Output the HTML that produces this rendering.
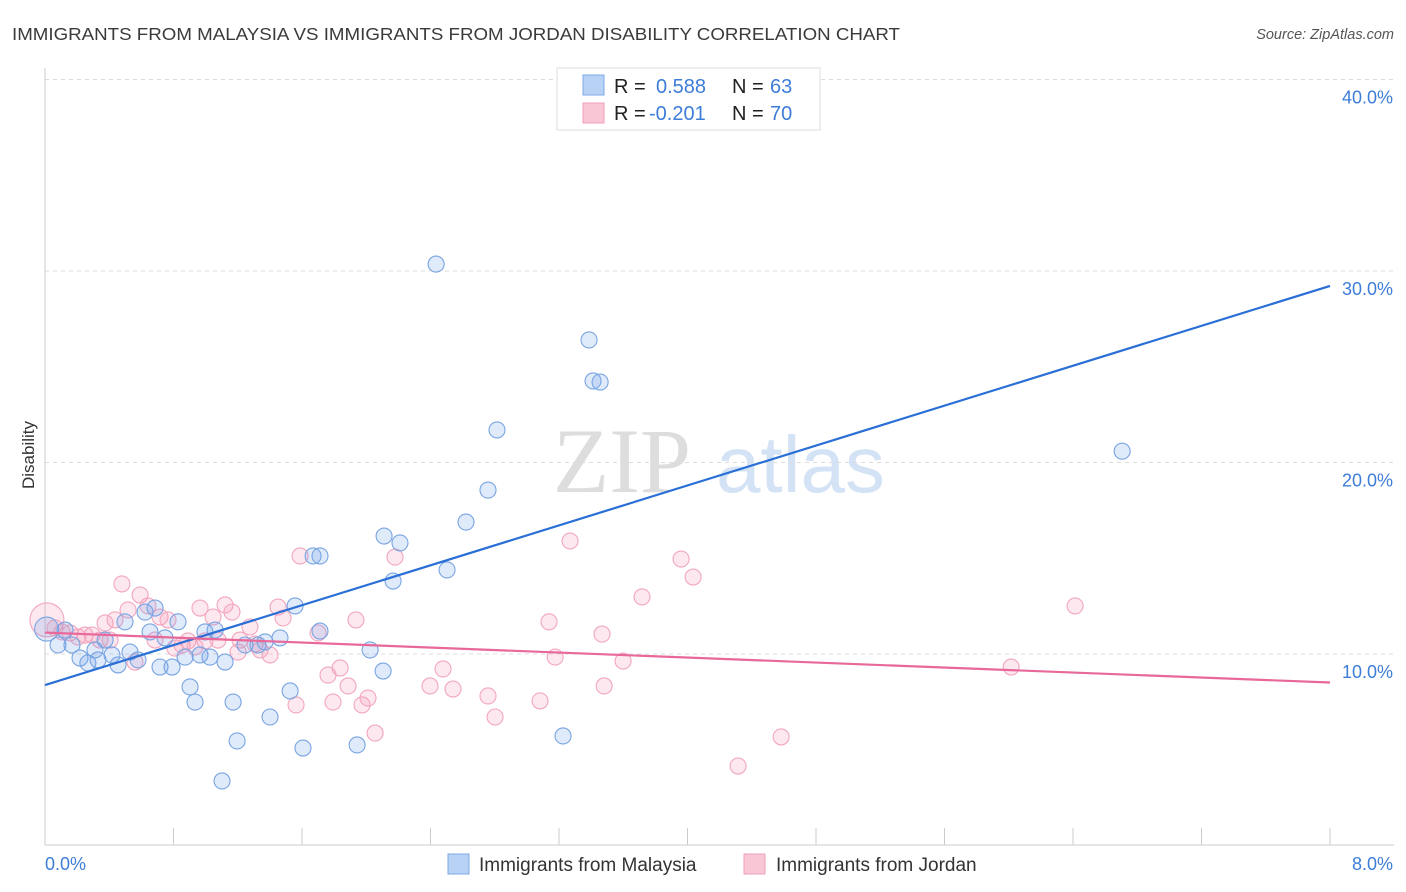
<!DOCTYPE html>
<html><head><meta charset="utf-8"><style>
body{margin:0;background:#fff;font-family:"Liberation Sans",sans-serif;}
svg{display:block}
</style></head><body>
<svg id="c" width="1406" height="892" xmlns="http://www.w3.org/2000/svg">
<text x="12" y="40" font-size="17.5" fill="#3a3a3a" textLength="888" lengthAdjust="spacingAndGlyphs">IMMIGRANTS FROM MALAYSIA VS IMMIGRANTS FROM JORDAN DISABILITY CORRELATION CHART</text>
<text x="1394" y="39" font-size="14.5" font-style="italic" fill="#555" text-anchor="end">Source: ZipAtlas.com</text>
<text x="34" y="455" font-size="17" fill="#333" text-anchor="middle" transform="rotate(-90 34 455)">Disability</text>
<g><text x="553" y="492" font-size="92" font-family="Liberation Serif,serif" fill="#ddd">ZIP</text><text x="716" y="492" font-size="80" fill="#d3e3f5">atlas</text></g>
<g id="grid"></g><g id="pts"></g><g id="trend"></g>
<g>
<rect x="557" y="68" width="263" height="62" fill="#fff" stroke="#ddd"/>
<rect x="583" y="75" width="21" height="20" fill="#b8d2f5" stroke="#7fa9e6"/>
<rect x="583" y="103" width="21" height="20" fill="#f9c6d6" stroke="#f0a0b8"/>
<text x="614" y="93" font-size="20" fill="#222">R = </text><text x="656" y="93" font-size="20" fill="#3d7dd8">0.588</text>
<text x="732" y="93" font-size="20" fill="#222">N = </text><text x="770" y="93" font-size="20" fill="#3d7dd8">63</text>
<text x="614" y="120" font-size="20" fill="#222">R = </text><text x="649" y="120" font-size="20" fill="#3d7dd8">-0.201</text>
<text x="732" y="120" font-size="20" fill="#222">N = </text><text x="770" y="120" font-size="20" fill="#3d7dd8">70</text>
</g>
<g>
<rect x="448" y="854" width="21" height="20" fill="#b8d2f5" stroke="#7fa9e6"/>
<text x="479" y="871" font-size="19" fill="#333">Immigrants from Malaysia</text>
<rect x="744" y="854" width="21" height="20" fill="#f9c6d6" stroke="#f0a0b8"/>
<text x="776" y="871" font-size="19" fill="#333">Immigrants from Jordan</text>
</g>
</svg>
<script>
const yTicks=[10,20,30,40];
const xTickLabels=["0.0%","8.0%"];
const blueX=[.081,.125,.168,.218,.267,.311,.330,.374,.417,.455,.498,.529,.579,.623,.654,.685,.716,.747,.791,.828,.872,.903,.934,.965,.996,1.027,1.059,1.121,1.171,1.196,1.102,1.245,1.326,1.370,1.401,1.463,1.526,1.557,1.606,1.669,1.712,1.712,1.943,2.024,2.105,2.111,2.167,2.210,2.435,2.503,2.621,2.758,2.814,3.225,3.387,3.412,3.456,6.706,0.01];
const blueY=[10.47,11.25,10.47,9.79,9.53,10.21,9.69,10.73,9.95,9.43,11.68,10.10,9.69,12.19,11.15,12.40,9.32,10.84,9.32,11.68,9.84,8.28,7.49,9.95,11.15,9.84,11.25,9.58,7.49,5.46,3.37,10.47,10.47,10.63,6.71,10.84,8.07,12.51,5.09,15.12,15.12,11.20,5.25,10.21,9.11,16.16,13.81,15.80,30.36,14.39,16.89,18.56,21.70,5.72,26.40,24.26,24.20,20.59,11.3];
const pinkX=[.012,.062,.106,.156,.205,.249,.293,.342,.374,.405,.436,.479,.517,.560,.592,.641,.685,.716,.766,.809,.853,.890,.934,.965,.996,1.046,1.077,1.121,1.164,1.202,1.214,1.276,1.308,1.339,1.401,1.451,1.482,1.563,1.588,1.700,1.762,1.793,1.837,1.887,1.936,1.974,2.011,2.055,2.179,2.397,2.478,2.540,2.758,2.802,3.082,3.138,3.176,3.269,3.468,3.481,3.599,3.717,3.960,4.035,4.315,4.583,6.015,6.413];
const pinkY=[11.78,11.36,11.15,11.10,10.89,10.99,10.99,10.73,11.62,10.73,11.78,13.66,12.30,9.58,13.08,12.51,10.73,11.93,11.78,10.31,10.47,10.68,10.37,12.40,10.68,11.93,10.73,12.56,12.19,10.10,10.73,11.41,10.52,10.21,9.95,12.45,11.88,7.34,15.12,11.10,8.90,7.49,9.27,8.33,11.78,7.34,7.70,5.87,15.06,8.33,9.22,8.17,7.81,6.71,7.55,11.68,9.84,15.90,11.04,8.33,9.63,12.98,14.96,14.02,4.15,5.67,9.32,12.51];
const blueTrend=[8.38,29.22];
const pinkTrend=[11.12,8.51];
const NS="http://www.w3.org/2000/svg";
const X=v=>45+v/8*1285, Y=v=>845.5-v*19.15;
function mk(t,a,p){const e=document.createElementNS(NS,t);for(const k in a)e.setAttribute(k,a[k]);document.getElementById(p).appendChild(e);return e;}
yTicks.forEach(t=>{
 const l=mk('line',{x1:45,x2:1394,y1:Y(t),y2:Y(t),stroke:'#ddd','stroke-dasharray':'4,4'},'grid');
 
 
 const tx=mk('text',{x:1393,y:Y(t)+24,'font-size':18,fill:'#3d7dd8','text-anchor':'end'},'grid');
 tx.textContent=t.toFixed(1)+'%';
 
 
});
const ax=mk('line',{x1:45,x2:45,y1:68,y2:845,stroke:'#ccc'},'grid');


const bx=mk('line',{x1:45,x2:1394,y1:845,y2:845,stroke:'#ccc'},'grid');


for(let i=0;i<=10;i++){const t=mk('line',{x1:X(i*0.8),x2:X(i*0.8),y1:828,y2:845,stroke:'#ccc'},'grid');
 
 }
const xl0=mk('text',{x:45,y:870,'font-size':18,fill:'#3d7dd8'},'grid');xl0.textContent=xTickLabels[0];


const xl1=mk('text',{x:1393,y:870,'font-size':18,fill:'#3d7dd8','text-anchor':'end'},'grid');xl1.textContent=xTickLabels[1];


pinkX.forEach((v,i)=>{const c=mk('circle',{cx:X(v),cy:Y(pinkY[i]),r:i===0?17:8,fill:'rgba(244,150,180,0.22)',stroke:'#f2a6be','stroke-width':1.1},'pts');
 
 });
blueX.forEach((v,i)=>{const c=mk('circle',{cx:X(v),cy:Y(blueY[i]),r:i===blueX.length-1?12:8,fill:'rgba(110,160,230,0.22)',stroke:'#78a4e2','stroke-width':1.1},'pts');
 
 });
const bt=mk('line',{x1:X(0),y1:Y(blueTrend[0]),x2:X(8),y2:Y(blueTrend[1]),stroke:'#2a6fd6','stroke-width':2.2},'trend');


const pt=mk('line',{x1:X(0),y1:Y(pinkTrend[0]),x2:X(8),y2:Y(pinkTrend[1]),stroke:'#e8689a','stroke-width':2.2},'trend');


</script>
</body></html>
